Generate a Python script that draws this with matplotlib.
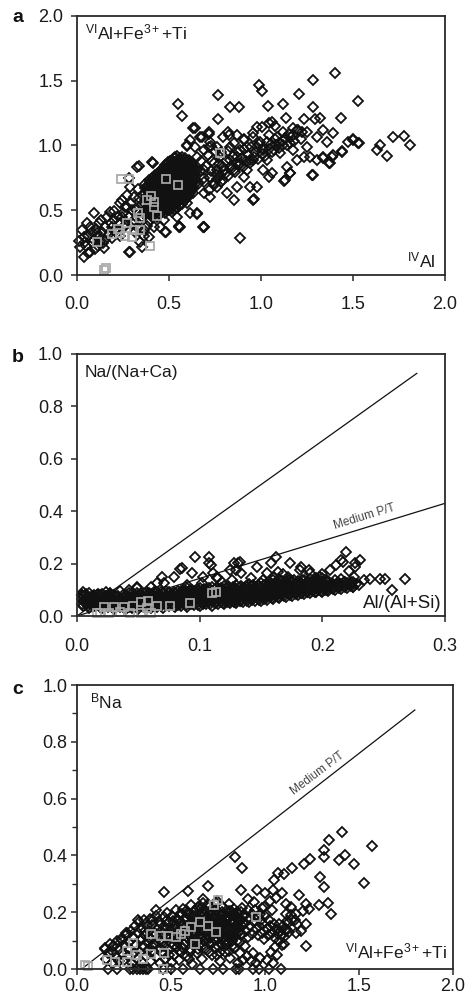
import matplotlib
matplotlib.use("Agg")
import matplotlib.pyplot as plt
from matplotlib.ticker import FormatStrFormatter, MultipleLocator

plt.rcParams['font.family'] = ['Liberation Sans', 'DejaVu Sans']
plt.rcParams['mathtext.fontset'] = 'custom'
plt.rcParams['mathtext.rm'] = 'Liberation Sans'
plt.rcParams['mathtext.it'] = 'Liberation Sans'

# ---------------- panel a : VIAl+Fe3++Ti vs IVAl ----------------
a_outliers = [
    (1.403, 1.562), (1.28, 1.506), (0.99, 1.467), (1.008, 1.423), (1.529, 1.344),
    (0.547, 1.323), (1.207, 1.40), (0.764, 1.387), (0.829, 1.295), (0.88, 1.30),
    (1.119, 1.323), (1.28, 1.297), (1.037, 1.305), (0.57, 1.225), (0.764, 1.205),
    (1.433, 1.215), (1.321, 1.215), (1.296, 1.205), (1.135, 1.21), (1.231, 1.205),
    (0.639, 1.133), (0.715, 1.089), (0.677, 1.068), (0.824, 1.081), (1.005, 1.143),
    (1.077, 1.151), (1.059, 1.184), (1.176, 1.133), (1.502, 1.053), (1.535, 1.019),
    (1.719, 1.063), (1.777, 1.073), (1.81, 1.006), (1.647, 1.001), (1.629, 0.965),
    (1.683, 0.919), (1.439, 0.952), (1.394, 0.927), (1.37, 0.862), (1.339, 0.914),
    (1.285, 0.772), (1.126, 0.726), (1.155, 0.79), (0.963, 0.584), (0.887, 0.283),
    (0.688, 0.368), (0.652, 0.471), (0.557, 0.373), (0.485, 0.335), (0.29, 0.18),
    (0.353, 0.219), (0.335, 0.844), (0.413, 0.865), (0.729, 0.996), (0.597, 0.999),
    (0.905, 1.048), (0.959, 1.094), (1.471, 1.024), (1.394, 1.094), (1.336, 1.12),
    (1.222, 1.104),
]

a_band = [
    (1.041, 1.081), (1.086, 1.068), (1.122, 1.107), (1.158, 1.017), (1.194, 1.120),
    (1.249, 1.107), (1.303, 1.068), (1.357, 1.030), (1.384, 0.914), (1.439, 0.960),
    (1.502, 1.042), (1.529, 1.017), (1.303, 0.888), (1.267, 0.914), (1.339, 0.901),
    (1.375, 0.862), (1.276, 0.772), (1.131, 0.734), (1.158, 0.785), (1.140, 0.837),
    (1.059, 0.785), (1.013, 0.811), (0.959, 0.579), (0.977, 0.682), (1.041, 0.759),
    (0.941, 0.888), (0.923, 0.991), (0.887, 0.965), (0.851, 1.017), (0.869, 0.914),
    (0.832, 0.888), (0.796, 0.837), (0.778, 0.914), (0.742, 0.862), (0.905, 0.759),
    (0.941, 0.682), (0.869, 0.682), (0.814, 0.631), (0.760, 0.682), (0.724, 0.605),
    (0.688, 0.631), (0.651, 0.476), (0.688, 0.373), (0.561, 0.373), (0.480, 0.335),
    (0.796, 0.734), (0.851, 0.579),
    (0.633, 1.133), (0.715, 1.107), (0.597, 1.004), (0.615, 1.042), (0.642, 0.991),
    (0.670, 1.068), (0.688, 0.965), (0.715, 0.991), (0.724, 1.030), (0.651, 0.914),
    (0.760, 0.991), (0.796, 1.068), (0.832, 0.991), (0.823, 1.107), (0.869, 1.081),
    (0.688, 0.811), (0.724, 0.759), (0.760, 0.811), (0.651, 0.811), (0.624, 0.734),
    (0.688, 0.721), (0.633, 0.631), (0.597, 0.553), (0.615, 0.476), (0.543, 0.450),
    (0.507, 0.502), (0.489, 0.579), (0.543, 0.605), (0.579, 0.656), (0.715, 0.656),
    (0.742, 0.708), (0.778, 0.772), (0.851, 0.811), (0.887, 0.862), (0.923, 0.811),
    (0.959, 0.888), (0.905, 1.042), (0.977, 0.991), (0.995, 1.030), (1.013, 0.965),
    (1.031, 0.888), (1.068, 0.965), (1.104, 0.940), (1.122, 1.004), (1.176, 0.965),
    (1.194, 0.888), (1.231, 0.914), (1.249, 0.991), (0.977, 1.145), (1.041, 1.171),
    (0.959, 1.068),
    (0.742, 0.692), (0.781, 0.718), (0.822, 0.763), (0.858, 0.797), (0.903, 0.834),
    (0.938, 0.862), (0.982, 0.893), (1.021, 0.918), (1.062, 0.951), (1.098, 0.982),
    (1.143, 1.003), (1.182, 1.034), (1.218, 1.052), (0.763, 0.744), (0.803, 0.781),
    (0.842, 0.823), (0.879, 0.846), (0.921, 0.884), (0.962, 0.912), (1.003, 0.938),
    (1.042, 0.972), (1.081, 1.001), (1.119, 1.032), (1.161, 1.062),
    (0.655, 0.70), (0.668, 0.80), (0.676, 0.88), (0.690, 0.75), (0.703, 0.84),
    (0.713, 0.93), (0.728, 0.80), (0.735, 0.88), (0.748, 0.96), (0.757, 0.78),
    (0.770, 0.86), (0.785, 0.95), (0.797, 0.80), (0.808, 0.88), (0.818, 0.96),
    (0.835, 0.84), (0.848, 0.92), (0.862, 0.86), (0.876, 0.95), (0.895, 0.90),
    (0.910, 0.97), (0.930, 0.93), (0.948, 0.99), (0.970, 0.95), (0.990, 1.01),
    (1.010, 0.98), (1.030, 1.03), (1.055, 1.01), (1.075, 1.05), (1.100, 1.02),
    (1.130, 1.06), (1.150, 1.09), (1.175, 1.08), (1.200, 1.12),
]

a_lowleft = [
    (0.027, 0.347), (0.036, 0.296), (0.018, 0.219), (0.036, 0.142), (0.072, 0.180),
    (0.081, 0.257), (0.072, 0.373), (0.118, 0.399), (0.136, 0.335), (0.154, 0.270),
    (0.145, 0.206), (0.181, 0.489), (0.199, 0.425), (0.235, 0.553), (0.217, 0.322),
    (0.253, 0.373), (0.280, 0.180), (0.290, 0.682), (0.326, 0.837), (0.299, 0.502),
    (0.308, 0.425), (0.335, 0.592), (0.344, 0.257), (0.353, 0.450), (0.362, 0.347),
    (0.389, 0.296), (0.407, 0.875), (0.416, 0.373), (0.434, 0.450), (0.452, 0.373),
    (0.471, 0.425), (0.552, 0.381), (0.684, 0.368), (0.280, 0.746), (0.244, 0.450),
    (0.271, 0.528), (0.190, 0.373), (0.109, 0.322), (0.054, 0.399), (0.090, 0.476),
    (0.062, 0.302), (0.091, 0.268), (0.102, 0.354), (0.121, 0.297), (0.133, 0.421),
    (0.152, 0.368), (0.163, 0.447), (0.171, 0.312), (0.184, 0.402), (0.203, 0.497),
    (0.212, 0.358), (0.224, 0.452), (0.232, 0.398), (0.243, 0.581), (0.251, 0.478),
    (0.262, 0.384), (0.272, 0.617), (0.283, 0.448), (0.291, 0.553), (0.302, 0.397),
    (0.311, 0.603), (0.322, 0.501), (0.331, 0.662), (0.342, 0.423), (0.352, 0.548),
    (0.361, 0.621), (0.371, 0.482), (0.382, 0.381), (0.392, 0.418), (0.401, 0.463),
    (0.041, 0.251), (0.083, 0.331), (0.142, 0.249), (0.192, 0.282), (0.112, 0.223),
    (0.263, 0.522), (0.313, 0.332), (0.362, 0.298), (0.333, 0.362), (0.231, 0.302),
    (0.012, 0.262), (0.048, 0.221), (0.058, 0.168), (0.099, 0.198), (0.124, 0.257),
]

# dense core of the main cluster, listed column by column (x, [y ...])
a_core = [
    (0.372, [0.46, 0.50, 0.55, 0.59, 0.63, 0.67, 0.70]),
    (0.381, [0.48, 0.52, 0.57, 0.61, 0.65, 0.69]),
    (0.389, [0.48, 0.53, 0.57, 0.61, 0.65, 0.69, 0.73]),
    (0.398, [0.47, 0.51, 0.55, 0.60, 0.64, 0.68, 0.72]),
    (0.407, [0.45, 0.50, 0.54, 0.58, 0.62, 0.67, 0.71, 0.75]),
    (0.416, [0.49, 0.53, 0.57, 0.61, 0.66, 0.70, 0.74]),
    (0.425, [0.47, 0.52, 0.56, 0.60, 0.64, 0.69, 0.73, 0.77]),
    (0.435, [0.49, 0.54, 0.58, 0.62, 0.66, 0.71, 0.75, 0.78]),
    (0.444, [0.47, 0.51, 0.55, 0.59, 0.63, 0.67, 0.71, 0.75, 0.79]),
    (0.452, [0.48, 0.53, 0.57, 0.61, 0.65, 0.69, 0.73, 0.77, 0.80]),
    (0.461, [0.49, 0.53, 0.58, 0.62, 0.66, 0.70, 0.74, 0.78, 0.82]),
    (0.471, [0.50, 0.54, 0.59, 0.63, 0.67, 0.71, 0.75, 0.79, 0.83]),
    (0.480, [0.48, 0.52, 0.56, 0.60, 0.64, 0.68, 0.72, 0.77, 0.81, 0.85]),
    (0.489, [0.50, 0.54, 0.58, 0.62, 0.66, 0.70, 0.74, 0.79, 0.83, 0.86]),
    (0.497, [0.50, 0.54, 0.58, 0.62, 0.66, 0.70, 0.75, 0.79, 0.83, 0.87]),
    (0.507, [0.51, 0.55, 0.59, 0.63, 0.67, 0.72, 0.76, 0.80, 0.84, 0.88]),
    (0.516, [0.49, 0.53, 0.57, 0.61, 0.65, 0.69, 0.73, 0.77, 0.81, 0.85, 0.89]),
    (0.525, [0.50, 0.54, 0.58, 0.62, 0.66, 0.70, 0.74, 0.78, 0.82, 0.86, 0.90]),
    (0.533, [0.51, 0.55, 0.59, 0.63, 0.67, 0.71, 0.75, 0.79, 0.83, 0.87, 0.91]),
    (0.543, [0.52, 0.56, 0.60, 0.64, 0.68, 0.72, 0.76, 0.80, 0.84, 0.88, 0.92]),
    (0.552, [0.53, 0.57, 0.61, 0.65, 0.69, 0.73, 0.77, 0.81, 0.85, 0.89]),
    (0.561, [0.54, 0.58, 0.62, 0.66, 0.70, 0.74, 0.78, 0.82, 0.86, 0.90]),
    (0.569, [0.55, 0.59, 0.63, 0.67, 0.71, 0.75, 0.79, 0.83, 0.87, 0.91]),
    (0.579, [0.57, 0.61, 0.65, 0.69, 0.73, 0.77, 0.81, 0.85, 0.89]),
    (0.588, [0.58, 0.62, 0.66, 0.70, 0.74, 0.78, 0.82, 0.86, 0.90]),
    (0.597, [0.60, 0.64, 0.68, 0.72, 0.76, 0.80, 0.84, 0.88]),
    (0.606, [0.61, 0.65, 0.69, 0.73, 0.77, 0.81, 0.85, 0.89]),
    (0.615, [0.63, 0.67, 0.71, 0.75, 0.79, 0.83, 0.87]),
    (0.624, [0.66, 0.70, 0.74, 0.78, 0.82, 0.86]),
    (0.633, [0.68, 0.72, 0.76, 0.80, 0.84]),
    (0.643, [0.70, 0.74, 0.78, 0.82]),
]

a_squares = [
    (0.241, 0.739), (0.281, 0.739), (0.483, 0.739), (0.548, 0.692), (0.40, 0.613),
    (0.416, 0.564), (0.42, 0.528), (0.331, 0.481), (0.34, 0.438), (0.434, 0.458),
    (0.271, 0.404), (0.221, 0.355), (0.235, 0.322), (0.308, 0.347), (0.398, 0.224),
    (0.159, 0.051), (0.148, 0.036), (0.778, 0.94), (0.299, 0.296), (0.344, 0.347),
    (0.109, 0.257), (0.38, 0.579), (0.26, 0.30), (0.19, 0.32),
]

# ---------------- panel b : Na/(Na+Ca) vs Al/(Al+Si) ----------------
b_line_steep = ([0.0, 0.277], [0.0, 0.926])
b_line_medium = ([0.0, 0.30], [0.0, 0.43])

b_core = [
    (0.005, [0.040, 0.058, 0.076]), (0.0075, [0.049, 0.067, 0.085]),
    (0.010, [0.032, 0.050, 0.068, 0.086]), (0.0125, [0.041, 0.059, 0.077]),
    (0.015, [0.038, 0.056, 0.074]), (0.0175, [0.047, 0.065, 0.083]),
    (0.020, [0.030, 0.048, 0.066, 0.084]), (0.0225, [0.039, 0.057, 0.075]),
    (0.025, [0.036, 0.054, 0.072]), (0.0275, [0.045, 0.063, 0.081]),
    (0.030, [0.028, 0.046, 0.064, 0.082]), (0.0325, [0.037, 0.055, 0.073]),
    (0.035, [0.034, 0.052, 0.070]), (0.0375, [0.043, 0.061, 0.079]),
    (0.040, [0.026, 0.044, 0.062, 0.080]), (0.0425, [0.035, 0.053, 0.071]),
    (0.045, [0.032, 0.050, 0.068, 0.086]), (0.0475, [0.041, 0.059, 0.077]),
    (0.050, [0.028, 0.046, 0.064, 0.082]), (0.0525, [0.037, 0.055, 0.073]),
    (0.055, [0.034, 0.052, 0.070, 0.088]), (0.0575, [0.043, 0.061, 0.079]),
    (0.060, [0.030, 0.048, 0.066, 0.084]), (0.0625, [0.039, 0.057, 0.075, 0.093]),
    (0.065, [0.036, 0.054, 0.072, 0.090]), (0.0675, [0.045, 0.063, 0.081]),
    (0.070, [0.032, 0.050, 0.068, 0.086]), (0.0725, [0.041, 0.059, 0.077, 0.095]),
    (0.075, [0.038, 0.056, 0.074, 0.092]), (0.0775, [0.047, 0.065, 0.083]),
    (0.080, [0.034, 0.052, 0.070, 0.088]), (0.0825, [0.043, 0.061, 0.079, 0.097]),
    (0.085, [0.040, 0.058, 0.076, 0.094]), (0.0875, [0.049, 0.067, 0.085, 0.101]),
    (0.090, [0.036, 0.054, 0.072, 0.090, 0.106]), (0.0925, [0.045, 0.063, 0.081, 0.099]),
    (0.095, [0.042, 0.060, 0.078, 0.096]), (0.0975, [0.051, 0.069, 0.087, 0.103]),
    (0.100, [0.038, 0.056, 0.074, 0.092, 0.108]), (0.1025, [0.047, 0.065, 0.083, 0.101]),
    (0.105, [0.044, 0.062, 0.080, 0.098]), (0.1075, [0.053, 0.071, 0.089, 0.105]),
    (0.110, [0.040, 0.058, 0.076, 0.094, 0.112]), (0.1125, [0.049, 0.067, 0.085, 0.103]),
    (0.115, [0.046, 0.064, 0.082, 0.100]), (0.1175, [0.055, 0.073, 0.091, 0.107]),
    (0.120, [0.044, 0.062, 0.080, 0.098, 0.114]), (0.1225, [0.053, 0.071, 0.089, 0.107]),
    (0.125, [0.050, 0.068, 0.086, 0.104]), (0.1275, [0.059, 0.077, 0.095, 0.111]),
    (0.130, [0.048, 0.066, 0.084, 0.102, 0.118]), (0.1325, [0.057, 0.075, 0.093, 0.111]),
    (0.135, [0.054, 0.072, 0.090, 0.108]), (0.1375, [0.063, 0.081, 0.099, 0.115]),
    (0.140, [0.052, 0.070, 0.088, 0.106, 0.122]), (0.1425, [0.061, 0.079, 0.097, 0.115]),
    (0.145, [0.058, 0.076, 0.094, 0.112]), (0.1475, [0.067, 0.085, 0.103, 0.119]),
    (0.150, [0.056, 0.074, 0.092, 0.110, 0.126]), (0.1525, [0.065, 0.083, 0.101, 0.119]),
    (0.155, [0.062, 0.080, 0.098, 0.116]), (0.1575, [0.071, 0.089, 0.107, 0.125]),
    (0.160, [0.066, 0.084, 0.102, 0.120, 0.136]), (0.1625, [0.075, 0.093, 0.111, 0.129]),
    (0.165, [0.070, 0.088, 0.106, 0.124, 0.142]), (0.1675, [0.079, 0.097, 0.115, 0.133]),
    (0.170, [0.074, 0.092, 0.110, 0.128]), (0.1725, [0.083, 0.101, 0.119, 0.137]),
    (0.175, [0.078, 0.096, 0.114, 0.132]), (0.1775, [0.087, 0.105, 0.123]),
    (0.180, [0.080, 0.098, 0.116, 0.134]), (0.1825, [0.089, 0.107, 0.125]),
    (0.185, [0.084, 0.102, 0.120, 0.138]), (0.1875, [0.093, 0.111, 0.129]),
    (0.190, [0.086, 0.104, 0.122, 0.140]), (0.1925, [0.095, 0.113, 0.131]),
    (0.195, [0.090, 0.108, 0.126, 0.144]), (0.1975, [0.099, 0.117, 0.135]),
    (0.200, [0.092, 0.110, 0.128, 0.146]), (0.2025, [0.101, 0.119, 0.137]),
    (0.205, [0.096, 0.114, 0.132]), (0.2075, [0.105, 0.123]),
    (0.210, [0.100, 0.118, 0.136]), (0.2125, [0.109, 0.127]),
    (0.215, [0.104, 0.122, 0.140]), (0.2175, [0.113, 0.131]),
    (0.220, [0.108, 0.126]), (0.2225, [0.117]),
    (0.225, [0.112, 0.130]), (0.2275, [0.121]),
    (0.230, [0.118]),
    (0.0037, [0.045, 0.063, 0.081]), (0.0087, [0.037, 0.055, 0.073]),
    (0.0137, [0.043, 0.061, 0.079]), (0.0187, [0.035, 0.053, 0.071]),
    (0.0237, [0.041, 0.059, 0.077]), (0.0287, [0.033, 0.051, 0.069]),
    (0.0337, [0.039, 0.057, 0.075]), (0.0387, [0.031, 0.049, 0.067]),
    (0.0437, [0.037, 0.055, 0.073]), (0.0487, [0.033, 0.051, 0.069, 0.087]),
    (0.0537, [0.039, 0.057, 0.075]), (0.0587, [0.035, 0.053, 0.071, 0.089]),
    (0.0637, [0.041, 0.059, 0.077]), (0.0687, [0.037, 0.055, 0.073, 0.091]),
    (0.0737, [0.043, 0.061, 0.079]), (0.0787, [0.039, 0.057, 0.075, 0.093]),
    (0.0837, [0.045, 0.063, 0.081]), (0.0887, [0.041, 0.059, 0.077, 0.095]),
    (0.0937, [0.047, 0.065, 0.083, 0.101]), (0.0987, [0.043, 0.061, 0.079, 0.097]),
    (0.1037, [0.049, 0.067, 0.085, 0.103]), (0.1087, [0.045, 0.063, 0.081, 0.099]),
    (0.1137, [0.051, 0.069, 0.087, 0.105]), (0.1187, [0.049, 0.067, 0.085, 0.103]),
    (0.1237, [0.055, 0.073, 0.091, 0.109]), (0.1287, [0.053, 0.071, 0.089, 0.107]),
    (0.1337, [0.059, 0.077, 0.095, 0.113]), (0.1387, [0.057, 0.075, 0.093, 0.111]),
    (0.1437, [0.063, 0.081, 0.099, 0.117]), (0.1487, [0.061, 0.079, 0.097, 0.115]),
    (0.1537, [0.067, 0.085, 0.103, 0.121]), (0.1587, [0.069, 0.087, 0.105, 0.123]),
    (0.1637, [0.073, 0.091, 0.109, 0.127]), (0.1687, [0.077, 0.095, 0.113, 0.131]),
    (0.1737, [0.081, 0.099, 0.117, 0.135]), (0.1787, [0.085, 0.103, 0.121]),
    (0.1837, [0.087, 0.105, 0.123, 0.139]), (0.1887, [0.091, 0.109, 0.127]),
    (0.1937, [0.093, 0.111, 0.129, 0.143]), (0.1987, [0.097, 0.115, 0.133]),
    (0.2037, [0.099, 0.117, 0.135]), (0.2087, [0.103, 0.121]),
    (0.2137, [0.107, 0.125]), (0.2187, [0.111, 0.129]),
    (0.2237, [0.115, 0.128]),
]

b_scatter = [
    (0.004, 0.080), (0.008, 0.074), (0.005, 0.093), (0.014, 0.074), (0.019, 0.080),
    (0.027, 0.080), (0.033, 0.074), (0.042, 0.087), (0.049, 0.106), (0.049, 0.112),
    (0.057, 0.093), (0.065, 0.125), (0.069, 0.150), (0.079, 0.150), (0.084, 0.178),
    (0.086, 0.182), (0.094, 0.165), (0.096, 0.226), (0.103, 0.150), (0.108, 0.226),
    (0.108, 0.201), (0.109, 0.195), (0.111, 0.163), (0.114, 0.144), (0.114, 0.150),
    (0.125, 0.176), (0.126, 0.137), (0.128, 0.201), (0.131, 0.201), (0.133, 0.207),
    (0.130, 0.176), (0.134, 0.163), (0.128, 0.055), (0.147, 0.188), (0.152, 0.137),
    (0.155, 0.163), (0.158, 0.201), (0.162, 0.226), (0.164, 0.169), (0.174, 0.201),
    (0.177, 0.137), (0.182, 0.176), (0.183, 0.188), (0.189, 0.176), (0.190, 0.163),
    (0.196, 0.137), (0.198, 0.150), (0.206, 0.176), (0.211, 0.195), (0.217, 0.207),
    (0.219, 0.246), (0.215, 0.214), (0.225, 0.112), (0.227, 0.188), (0.227, 0.201),
    (0.231, 0.214), (0.234, 0.137), (0.239, 0.140), (0.247, 0.140), (0.251, 0.140),
    (0.257, 0.099), (0.267, 0.140), (0.102, 0.125), (0.027, 0.087), (0.016, 0.080),
    (0.042, 0.099), (0.071, 0.125), (0.168, 0.160), (0.172, 0.150), (0.200, 0.160),
    (0.222, 0.170), (0.226, 0.150), (0.161, 0.150), (0.142, 0.145), (0.118, 0.130),
    (0.090, 0.120), (0.060, 0.110), (0.035, 0.095), (0.024, 0.090),
]

b_squares = [
    (0.1136, 0.093), (0.110, 0.087), (0.092, 0.048), (0.076, 0.038), (0.065, 0.038),
    (0.058, 0.059), (0.052, 0.055), (0.046, 0.038), (0.038, 0.036), (0.030, 0.036),
    (0.022, 0.036), (0.019, 0.013), (0.026, 0.013), (0.035, 0.017), (0.043, 0.013),
    (0.052, 0.010), (0.060, 0.013), (0.057, 0.029), (0.016, 0.010),
]

# ---------------- panel c : BNa vs VIAl+Fe3++Ti ----------------
c_line_medium = ([0.025, 1.797], [0.0, 0.912])

c_cluster = [
    (0.148, 0.072), (0.152, 0.035), (0.163, 0.055),
    (0.178, 0.088), (0.185, 0.022), (0.191, 0.060), (0.196, 0.081),
    (0.208, 0.043), (0.214, 0.100), (0.222, 0.071), (0.226, 0.028),
    (0.236, 0.104), (0.241, 0.058), (0.248, 0.085), (0.252, 0.030), (0.258, 0.118),
    (0.266, 0.126), (0.271, 0.047), (0.276, 0.094), (0.283, 0.071), (0.289, 0.135), (0.292, 0.022),
    (0.298, 0.112), (0.304, 0.058), (0.309, 0.150), (0.314, 0.083), (0.318, 0.035), (0.322, 0.128),
    (0.328, 0.165), (0.333, 0.102), (0.337, 0.060), (0.343, 0.141), (0.347, 0.024), (0.351, 0.082),
    (0.356, 0.172), (0.362, 0.118), (0.366, 0.046), (0.371, 0.150), (0.375, 0.092), (0.379, 0.068), (0.383, 0.133),
    (0.388, 0.176), (0.392, 0.028), (0.396, 0.104), (0.401, 0.155), (0.405, 0.062), (0.409, 0.128), (0.413, 0.085),
    (0.418, 0.186), (0.421, 0.042), (0.426, 0.140), (0.431, 0.110), (0.435, 0.168), (0.439, 0.075), (0.443, 0.020),
    (0.448, 0.158), (0.452, 0.095), (0.457, 0.126), (0.461, 0.055), (0.465, 0.182), (0.469, 0.034), (0.472, 0.145),
    (0.477, 0.112), (0.481, 0.198), (0.486, 0.070), (0.490, 0.165), (0.494, 0.138), (0.499, 0.092), (0.503, 0.025),
    (0.507, 0.186), (0.511, 0.122), (0.515, 0.048), (0.520, 0.155), (0.524, 0.102), (0.528, 0.206), (0.532, 0.078),
    (0.536, 0.172), (0.540, 0.135), (0.545, 0.030), (0.549, 0.192), (0.553, 0.060), (0.557, 0.115), (0.561, 0.152),
    (0.566, 0.210), (0.570, 0.088), (0.574, 0.178), (0.578, 0.130), (0.583, 0.045), (0.587, 0.198), (0.591, 0.108),
    (0.595, 0.160), (0.600, 0.072), (0.604, 0.225), (0.608, 0.140), (0.612, 0.018), (0.616, 0.185), (0.620, 0.098),
    (0.625, 0.205), (0.629, 0.122), (0.633, 0.168), (0.637, 0.055), (0.641, 0.146), (0.645, 0.220), (0.650, 0.085),
    (0.654, 0.190), (0.658, 0.108), (0.662, 0.160), (0.667, 0.035), (0.671, 0.232), (0.675, 0.130), (0.679, 0.178),
    (0.683, 0.070), (0.688, 0.205), (0.692, 0.150), (0.696, 0.115), (0.700, 0.225), (0.704, 0.092), (0.708, 0.168),
    (0.712, 0.195), (0.717, 0.048), (0.721, 0.138), (0.725, 0.215), (0.729, 0.105), (0.733, 0.175), (0.737, 0.075),
    (0.741, 0.232), (0.746, 0.158), (0.750, 0.122), (0.754, 0.198), (0.758, 0.028), (0.762, 0.142), (0.766, 0.088),
    (0.770, 0.182), (0.775, 0.218), (0.779, 0.108), (0.783, 0.160), (0.787, 0.060), (0.791, 0.205), (0.795, 0.130),
    (0.800, 0.172), (0.804, 0.095), (0.808, 0.228), (0.812, 0.145), (0.816, 0.040), (0.820, 0.190), (0.825, 0.118),
    (0.829, 0.160), (0.833, 0.210), (0.837, 0.075), (0.841, 0.135), (0.845, 0.182), (0.849, 0.100), (0.854, 0.022),
    (0.858, 0.198), (0.862, 0.148), (0.866, 0.055), (0.870, 0.172), (0.874, 0.118), (0.878, 0.215), (0.883, 0.032),
    (0.887, 0.160), (0.891, 0.190), (0.895, 0.080), (0.899, 0.135), (0.903, 0.045), (0.908, 0.208), (0.912, 0.112),
    (0.916, 0.175), (0.920, 0.150), (0.925, 0.028), (0.929, 0.195), (0.933, 0.125), (0.937, 0.058),
    (0.941, 0.165), (0.946, 0.208), (0.950, 0.140), (0.954, 0.022), (0.958, 0.182), (0.962, 0.118),
    (0.967, 0.150), (0.971, 0.195), (0.975, 0.040), (0.979, 0.172), (0.983, 0.128),
    (0.992, 0.160), (0.996, 0.105), (1.000, 0.185), (1.009, 0.140), (1.013, 0.032), (1.017, 0.118),
    (1.021, 0.172), (1.025, 0.150), (1.034, 0.060), (1.038, 0.128), (1.042, 0.020), (1.046, 0.158),
    (1.051, 0.110), (1.055, 0.078), (1.060, 0.142), (1.064, 0.050), (1.068, 0.122), (1.073, 0.098), (1.077, 0.160),
    (1.082, 0.135), (1.088, 0.085), (1.095, 0.150), (1.102, 0.112), (1.110, 0.140), (1.118, 0.168), (1.126, 0.130),
    (0.505, 0.142), (0.518, 0.085), (0.531, 0.175), (0.547, 0.110), (0.559, 0.192), (0.563, 0.075),
    (0.577, 0.150), (0.590, 0.122), (0.598, 0.190), (0.606, 0.095), (0.614, 0.160), (0.623, 0.135),
    (0.631, 0.210), (0.639, 0.095), (0.648, 0.175), (0.656, 0.135), (0.664, 0.200), (0.669, 0.085),
    (0.677, 0.155), (0.686, 0.180), (0.690, 0.105), (0.698, 0.135), (0.706, 0.200), (0.714, 0.160),
    (0.719, 0.090), (0.727, 0.185), (0.735, 0.140), (0.739, 0.208), (0.748, 0.105), (0.756, 0.175),
    (0.760, 0.060), (0.768, 0.150), (0.773, 0.200), (0.781, 0.135), (0.789, 0.178), (0.793, 0.085),
    (0.802, 0.150), (0.806, 0.205), (0.814, 0.120), (0.818, 0.165), (0.827, 0.080), (0.831, 0.190),
    (0.839, 0.150), (0.847, 0.125), (0.852, 0.200), (0.860, 0.170), (0.868, 0.095), (0.876, 0.150),
    (0.885, 0.185), (0.440, 0.100), (0.455, 0.140), (0.463, 0.080), (0.475, 0.170), (0.484, 0.125),
    (0.492, 0.050), (0.420, 0.125), (0.400, 0.080), (0.385, 0.110), (0.360, 0.135), (0.345, 0.105),
    (0.552, 0.165), (0.568, 0.120), (0.581, 0.205), (0.594, 0.140), (0.603, 0.060), (0.611, 0.170),
    (0.619, 0.120), (0.627, 0.185), (0.635, 0.105), (0.643, 0.160), (0.652, 0.125), (0.660, 0.215),
    (0.665, 0.145), (0.673, 0.100), (0.681, 0.195), (0.689, 0.125), (0.694, 0.170), (0.702, 0.150),
    (0.710, 0.110), (0.716, 0.180), (0.723, 0.125), (0.731, 0.160), (0.738, 0.190), (0.744, 0.135),
    (0.752, 0.080), (0.759, 0.165), (0.765, 0.120), (0.772, 0.190), (0.777, 0.140), (0.785, 0.100),
    (0.792, 0.160), (0.798, 0.115), (0.805, 0.185), (0.811, 0.135), (0.819, 0.205), (0.823, 0.100),
    (0.830, 0.140), (0.836, 0.170), (0.843, 0.115), (0.851, 0.150), (0.856, 0.182), (0.864, 0.130),
    (0.872, 0.200), (0.880, 0.125), (0.890, 0.165), (0.534, 0.095), (0.522, 0.140), (0.512, 0.170),
    (0.497, 0.110), (0.542, 0.065), (0.579, 0.095), (0.596, 0.035), (0.642, 0.070), (0.700, 0.060),
    (0.744, 0.050), (0.810, 0.065),
]

c_outliers = [
    (1.41, 0.482), (1.339, 0.453), (1.313, 0.418), (1.313, 0.394), (1.568, 0.433),
    (1.427, 0.40), (1.392, 0.384), (1.471, 0.371), (1.242, 0.386), (1.21, 0.37),
    (1.142, 0.356), (1.101, 0.335), (1.071, 0.338), (1.048, 0.312), (1.292, 0.324),
    (1.313, 0.288), (1.524, 0.304), (1.286, 0.224), (1.336, 0.233), (1.353, 0.194),
    (0.84, 0.394), (0.878, 0.356), (0.696, 0.292), (0.59, 0.273), (0.463, 0.27),
    (0.872, 0.279), (0.96, 0.279), (1.001, 0.267), (1.04, 0.279), (1.093, 0.267),
    (1.181, 0.259), (1.216, 0.229), (1.233, 0.212), (1.216, 0.159), (1.216, 0.082),
    (1.163, 0.194), (1.137, 0.218), (1.11, 0.229), (0.907, 0.247), (0.944, 0.235),
    (0.996, 0.218), (1.025, 0.239), (1.057, 0.251), (0.67, 0.247), (0.744, 0.241),
    (1.11, 0.194), (1.145, 0.171), (1.172, 0.159), (1.19, 0.135), (1.11, 0.135),
    (1.093, 0.124), (1.101, 0.088), (1.202, 0.205), (1.14, 0.19), (1.123, 0.161),
    (1.158, 0.173), (1.167, 0.126), (1.088, 0.12), (1.035, 0.208), (0.982, 0.214),
    (0.149, 0.075), (0.193, 0.081), (0.237, 0.102), (0.263, 0.126), (0.325, 0.173),
    (0.404, 0.173), (0.421, 0.208),
]

c_zero_x = [0.167, 0.211, 0.282, 0.30, 0.317, 0.335, 0.352, 0.365, 0.379, 0.458,
            0.502, 0.564, 0.652, 0.722, 0.779, 0.846, 0.863, 0.934, 0.969, 1.022, 1.084]

c_squares = [
    (0.044, 0.015), (0.058, 0.012), (0.162, 0.032), (0.203, 0.024), (0.264, 0.065),
    (0.264, 0.024), (0.352, 0.035), (0.396, 0.053), (0.463, 0.055), (0.458, 0.0),
    (0.396, 0.124), (0.449, 0.116), (0.485, 0.116), (0.525, 0.114), (0.555, 0.124),
    (0.573, 0.135), (0.608, 0.147), (0.652, 0.165), (0.696, 0.151), (0.74, 0.129),
    (0.626, 0.088), (0.749, 0.244), (0.731, 0.224), (0.951, 0.182), (0.30, 0.09),
    (0.32, 0.05),
]


def pairs(pts):
    return [p[0] for p in pts], [p[1] for p in pts]


def columns(cols):
    xs, ys = [], []
    for x, yl in cols:
        xs += [x] * len(yl)
        ys += list(yl)
    return xs, ys


DIA = dict(linestyle='none', marker='D', markersize=4.6, markerfacecolor='none',
           markeredgecolor='#111111', markeredgewidth=1.3, clip_on=False)
SQ = dict(linestyle='none', marker='s', markersize=6.3, markerfacecolor='none',
          markeredgecolor='#a8a8a8', markeredgewidth=1.25, clip_on=False)
TXT = '#1a1a1a'


def style(ax, xpad, ypad):
    for s in ax.spines.values():
        s.set_linewidth(1.3)
        s.set_color('#2a2a2a')
    ax.tick_params(axis='both', which='major', direction='out', length=4,
                   width=1.1, color='#2a2a2a', labelsize=13, labelcolor=TXT)
    ax.tick_params(axis='x', pad=xpad)
    ax.tick_params(axis='y', pad=ypad)
    ax.tick_params(which='minor', direction='out', length=3.5, width=1.0, color='#2a2a2a')
    ax.xaxis.set_major_formatter(FormatStrFormatter('%.1f'))
    ax.yaxis.set_major_formatter(FormatStrFormatter('%.1f'))


fig = plt.figure(figsize=(4.66, 9.96), dpi=100)
W, H = 466.0, 996.0
ax_a = fig.add_axes([77 / W, 1 - 275 / H, 368 / W, 259 / H])
ax_b = fig.add_axes([77 / W, 1 - 616 / H, 368 / W, 262 / H])
ax_c = fig.add_axes([77 / W, 1 - 969 / H, 376 / W, 284 / H])

# panel a
ax_a.plot(*pairs(a_lowleft), **DIA)
ax_a.plot(*columns(a_core), **DIA)
ax_a.plot(*pairs(a_band), **DIA)
ax_a.plot(*pairs(a_outliers), **DIA)
ax_a.plot(*pairs(a_squares), **SQ)
ax_a.set_xlim(0, 2)
ax_a.set_ylim(0, 2)
ax_a.set_xticks([0, 0.5, 1.0, 1.5, 2.0])
ax_a.set_yticks([0, 0.5, 1.0, 1.5, 2.0])
style(ax_a, 11, 6)
ax_a.text(0.022, 0.911, r'$^{\mathrm{VI}}$Al+Fe$^{3+}$+Ti', transform=ax_a.transAxes,
          fontsize=12.5, color=TXT, va='baseline', ha='left')
ax_a.text(0.975, 0.031, r'$^{\mathrm{IV}}$Al', transform=ax_a.transAxes,
          fontsize=12.5, color=TXT, va='baseline', ha='right')

# panel b
ax_b.plot(*b_line_steep, color='#111111', linewidth=0.9)
ax_b.plot(*b_line_medium, color='#111111', linewidth=0.9)
ax_b.plot(*columns(b_core), **DIA)
ax_b.plot(*pairs(b_scatter), **DIA)
ax_b.plot(*pairs(b_squares), **SQ)
ax_b.set_xlim(0, 0.3)
ax_b.set_ylim(0, 1)
ax_b.set_xticks([0, 0.1, 0.2, 0.3])
ax_b.set_yticks([0, 0.2, 0.4, 0.6, 0.8, 1.0])
style(ax_b, 12, 6)
ax_b.text(0.022, 0.912, 'Na/(Na+Ca)', transform=ax_b.transAxes,
          fontsize=12.5, color=TXT, va='baseline', ha='left')
ax_b.text(0.992, 0.031, 'Al/(Al+Si)', transform=ax_b.transAxes,
          fontsize=13.5, color=TXT, va='baseline', ha='right')
ax_b.text(0.2347, 0.378, 'Medium P/T', fontsize=8.5, color='#444444',
          rotation=17, ha='center', va='center')

# panel c
ax_c.plot(*c_line_medium, color='#111111', linewidth=0.9)
ax_c.plot(*pairs(c_cluster), **DIA)
ax_c.plot(*pairs(c_outliers), **DIA)
ax_c.plot(c_zero_x, [0.0] * len(c_zero_x), **DIA)
ax_c.plot(*pairs(c_squares), **SQ)
ax_c.set_xlim(0, 2)
ax_c.set_ylim(0, 1)
ax_c.set_xticks([0, 0.5, 1.0, 1.5, 2.0])
ax_c.set_yticks([0, 0.2, 0.4, 0.6, 0.8, 1.0])
ax_c.yaxis.set_minor_locator(MultipleLocator(0.1))
style(ax_c, 2.5, 3)
ax_c.text(0.034, 0.919, r'$^{\mathrm{B}}$Na', transform=ax_c.transAxes,
          fontsize=12.5, color=TXT, va='baseline', ha='left')
ax_c.text(0.984, 0.039, r'$^{\mathrm{VI}}$Al+Fe$^{3+}$+Ti', transform=ax_c.transAxes,
          fontsize=12.5, color=TXT, va='baseline', ha='right')
ax_c.text(1.279, 0.69, 'Medium P/T', fontsize=8.5, color='#444444',
          rotation=37, ha='center', va='center')

# panel letters
for lab, ypix in (('a', 18), ('b', 357), ('c', 689)):
    fig.text(12 / W, 1 - ypix / H, lab, fontsize=14, fontweight='bold',
             color='#111111', ha='left', va='center')

fig.savefig('out.png', dpi=100)
